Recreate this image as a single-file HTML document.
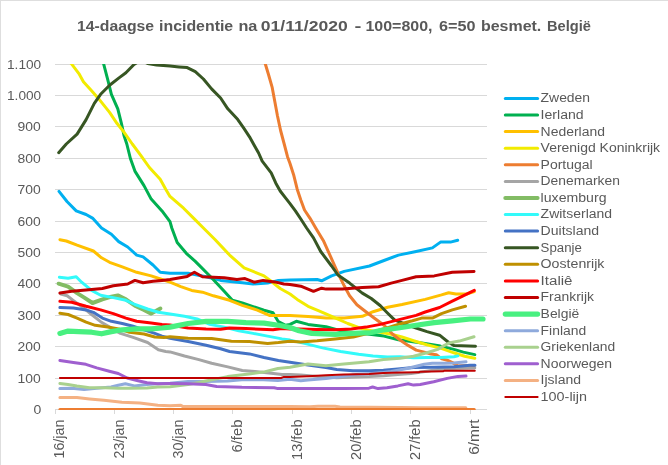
<!DOCTYPE html>
<html lang="nl"><head><meta charset="utf-8"><title>14-daagse incidentie</title>
<style>
html,body{margin:0;padding:0;background:#fff;}
body{width:668px;height:465px;overflow:hidden;position:relative;}
svg{display:block;position:absolute;left:0;top:0;}
text{font-family:"Liberation Sans",sans-serif;fill:#595959;}
</style></head><body>
<svg width="668" height="465" viewBox="0 0 668 465">
<rect x="0" y="0" width="668" height="465" fill="#ffffff"/>
<rect x="0" y="0" width="668" height="1" fill="#DEDEDE"/>
<rect x="0" y="0" width="1" height="465" fill="#DEDEDE"/>

<g font-size="15.3" font-weight="bold">
<text x="77.0" y="30.5" textLength="77.1" lengthAdjust="spacingAndGlyphs">14-daagse</text>
<text x="159.0" y="30.5" textLength="74.2" lengthAdjust="spacingAndGlyphs">incidentie</text>
<text x="238.4" y="30.5" textLength="19.0" lengthAdjust="spacingAndGlyphs">na</text>
<text x="260.8" y="30.5" textLength="86.9" lengthAdjust="spacingAndGlyphs">01/11/2020</text>
<text x="354.6" y="30.5" textLength="6.9" lengthAdjust="spacingAndGlyphs">-</text>
<text x="365.4" y="30.5" textLength="67.1" lengthAdjust="spacingAndGlyphs">100=800,</text>
<text x="439.1" y="30.5" textLength="36.5" lengthAdjust="spacingAndGlyphs">6=50</text>
<text x="481.0" y="30.5" textLength="60.3" lengthAdjust="spacingAndGlyphs">besmet.</text>
<text x="547.0" y="30.5" textLength="43.9" lengthAdjust="spacingAndGlyphs">België</text>
</g>
<g fill="#D9D9D9">
<rect x="55" y="64" width="432" height="1"/>
<rect x="55" y="95" width="432" height="1"/>
<rect x="55" y="126" width="432" height="1"/>
<rect x="55" y="158" width="432" height="1"/>
<rect x="55" y="189" width="432" height="1"/>
<rect x="55" y="221" width="432" height="1"/>
<rect x="55" y="252" width="432" height="1"/>
<rect x="55" y="283" width="432" height="1"/>
<rect x="55" y="315" width="432" height="1"/>
<rect x="55" y="346" width="432" height="1"/>
<rect x="55" y="378" width="432" height="1"/>
<rect x="55" y="409" width="432" height="1"/>
<rect x="55" y="409" width="1" height="5"/>
<rect x="114" y="409" width="1" height="5"/>
<rect x="173" y="409" width="1" height="5"/>
<rect x="232" y="409" width="1" height="5"/>
<rect x="292" y="409" width="1" height="5"/>
<rect x="351" y="409" width="1" height="5"/>
<rect x="410" y="409" width="1" height="5"/>
<rect x="470" y="409" width="1" height="5"/>
</g>
<g font-size="12" text-anchor="end">
<text x="41.2" y="68.5" textLength="34.2" lengthAdjust="spacingAndGlyphs">1.100</text>
<text x="41.2" y="99.5" textLength="34.2" lengthAdjust="spacingAndGlyphs">1.000</text>
<text x="40.7" y="130.5" textLength="23.2" lengthAdjust="spacingAndGlyphs">900</text>
<text x="40.7" y="162.5" textLength="23.2" lengthAdjust="spacingAndGlyphs">800</text>
<text x="40.7" y="193.5" textLength="23.2" lengthAdjust="spacingAndGlyphs">700</text>
<text x="40.7" y="225.5" textLength="23.2" lengthAdjust="spacingAndGlyphs">600</text>
<text x="40.7" y="256.5" textLength="23.2" lengthAdjust="spacingAndGlyphs">500</text>
<text x="40.7" y="287.5" textLength="23.2" lengthAdjust="spacingAndGlyphs">400</text>
<text x="40.7" y="319.5" textLength="23.2" lengthAdjust="spacingAndGlyphs">300</text>
<text x="40.7" y="350.5" textLength="23.2" lengthAdjust="spacingAndGlyphs">200</text>
<text x="40.7" y="382.5" textLength="23.2" lengthAdjust="spacingAndGlyphs">100</text>
<text x="41.4" y="413.5" textLength="7.8" lengthAdjust="spacingAndGlyphs">0</text>
</g>
<g font-size="14">
<text transform="translate(64.4,458.6) rotate(-90)" textLength="39.1" lengthAdjust="spacingAndGlyphs">16/jan</text>
<text transform="translate(123.7,458.6) rotate(-90)" textLength="39.1" lengthAdjust="spacingAndGlyphs">23/jan</text>
<text transform="translate(183.0,458.6) rotate(-90)" textLength="39.1" lengthAdjust="spacingAndGlyphs">30/jan</text>
<text transform="translate(242.3,452.5) rotate(-90)" textLength="33.0" lengthAdjust="spacingAndGlyphs">6/feb</text>
<text transform="translate(301.6,459.9) rotate(-90)" textLength="40.4" lengthAdjust="spacingAndGlyphs">13/feb</text>
<text transform="translate(360.9,459.9) rotate(-90)" textLength="40.4" lengthAdjust="spacingAndGlyphs">20/feb</text>
<text transform="translate(420.1,459.9) rotate(-90)" textLength="40.4" lengthAdjust="spacingAndGlyphs">27/feb</text>
<text transform="translate(479.4,454.8) rotate(-90)" textLength="35.3" lengthAdjust="spacingAndGlyphs">6/mrt</text>
</g>
<defs><clipPath id="pa"><rect x="55" y="64" width="433" height="346"/></clipPath></defs>
<g clip-path="url(#pa)" fill="none" stroke-linejoin="round" stroke-linecap="round">
<polyline stroke="#00B0F0" stroke-width="3" points="59.0,191.4 67.2,201.8 76.2,210.9 86.1,214.5 92.5,218.1 101.5,228.0 111.4,234.3 118.7,241.6 127.7,247.0 136.7,255.1 143.1,256.9 153.0,265.0 160.2,272.3 170.0,273.2 188.1,273.2 206.1,276.8 220.6,280.4 242.3,282.8 253.1,284.0 267.6,283.1 278.4,280.4 290.0,279.9 317.1,279.5 321.6,280.8 331.6,275.9 344.2,271.4 369.5,266.0 384.0,260.5 398.4,255.1 416.1,251.5 432.4,247.9 440.5,242.1 450.5,242.1 457.7,240.3"/>
<polyline stroke="#00B050" stroke-width="3" points="59.0,-60.0 100.0,50.0 103.7,64.2 107.8,79.9 111.4,94.3 117.8,108.8 121.4,123.3 124.1,135.9 126.8,144.0 130.4,158.5 134.9,171.1 144.0,185.6 151.2,199.1 162.0,210.9 170.0,221.7 171.8,228.0 177.2,242.5 186.3,253.3 195.3,261.4 211.6,277.7 224.2,291.3 232.4,300.3 242.3,303.0 253.1,306.6 264.0,310.2 273.0,312.7 278.4,321.7 285.7,325.3 290.0,324.4 296.3,321.3 308.1,324.4 326.1,326.7 344.2,331.6 369.5,334.3 384.0,336.1 398.4,339.8 420.2,342.7 440.4,346.1 453.9,349.4 463.3,352.1 474.8,354.6"/>
<polyline stroke="#FFC000" stroke-width="3" points="59.9,239.7 66.3,241.0 77.1,245.2 93.4,251.0 101.5,257.8 109.6,262.3 122.3,266.9 136.7,272.3 151.2,275.9 162.0,279.5 170.0,282.2 180.8,286.7 191.7,290.4 202.5,292.2 213.4,295.8 229.6,300.3 242.3,305.4 256.7,309.9 269.4,315.4 290.0,315.4 308.1,316.6 326.1,318.1 344.2,318.1 362.3,316.3 373.1,311.7 387.6,307.2 402.0,304.5 425.2,299.4 441.5,294.9 448.7,292.7 455.9,294.0 466.7,294.0 474.3,291.6"/>
<polyline stroke="#F2EB00" stroke-width="3" points="59.2,48.0 71.7,64.2 78.9,73.6 83.4,81.7 91.6,90.7 98.8,98.9 109.6,112.4 116.9,123.3 124.1,132.3 132.3,144.0 140.4,154.8 149.4,167.5 160.2,179.2 165.7,189.2 170.0,196.4 177.2,202.7 183.6,208.2 193.5,218.1 203.4,228.0 215.2,239.7 229.6,255.1 244.1,267.8 253.1,271.4 264.0,275.9 271.2,281.3 280.2,288.5 290.0,294.0 297.2,299.4 308.1,306.3 318.9,310.8 333.4,317.2 347.8,323.5 362.3,328.9 376.7,331.6 391.2,334.3 402.0,337.0 413.5,340.7 426.9,344.7 440.4,348.1 453.9,352.8 464.7,356.2 474.8,358.2"/>
<polyline stroke="#ED7D31" stroke-width="3" points="258.0,40.0 265.4,64.2 268.5,74.5 272.1,87.1 274.8,101.6 277.5,116.0 280.6,130.5 284.2,144.0 287.5,156.7 290.0,163.5 293.6,174.7 297.2,189.2 300.8,200.0 304.5,210.0 309.9,218.1 315.7,228.0 323.4,240.7 330.7,256.9 337.9,273.2 344.2,285.8 349.6,295.8 356.9,304.8 362.3,309.0 373.1,317.2 384.0,325.3 392.7,334.3 400.0,340.0 408.1,345.4 416.2,350.1 424.3,352.1 431.0,354.1 436.4,354.8 441.8,358.9 447.2,360.2 452.5,362.6 458.0,366.0 470.0,365.4 474.0,365.4"/>
<polyline stroke="#A5A5A5" stroke-width="3" points="60.8,294.0 67.2,295.8 73.5,300.6 82.5,307.2 91.6,314.5 100.6,321.7 109.6,327.1 120.5,333.4 133.1,337.4 147.6,342.5 158.4,349.7 165.7,351.5 170.0,351.9 184.5,356.0 198.9,359.6 211.6,363.3 227.8,366.9 242.3,370.5 254.9,371.4 271.2,373.2 282.0,374.5 290.0,374.5 300.8,375.1 318.0,376.5 336.7,377.8 369.0,376.6 383.4,375.7 397.8,374.4 411.0,373.5 425.0,371.5 437.7,369.4 453.9,368.6 474.8,368.0"/>
<polyline stroke="#82BC64" stroke-width="4" points="58.6,283.7 68.1,286.7 77.1,293.1 84.3,297.6 92.5,303.0 102.4,299.4 111.4,296.7 117.8,295.4 125.9,299.4 134.9,305.7 144.0,309.9 151.2,313.6 160.4,308.5"/>
<polyline stroke="#33FAFA" stroke-width="3" points="59.4,277.2 68.1,278.2 76.2,276.8 81.6,282.2 91.6,290.4 100.6,295.2 113.3,297.6 125.9,300.3 134.9,304.5 147.6,309.0 158.4,312.3 170.0,314.1 184.5,316.3 197.1,319.0 209.8,324.4 224.2,327.1 238.7,330.7 253.1,333.4 267.6,336.1 282.0,338.9 290.0,340.1 304.5,343.4 322.5,347.9 340.6,351.5 358.7,354.2 373.1,356.0 387.6,356.9 400.0,356.8 413.5,357.8 426.9,357.5 440.4,357.5 453.9,356.8 457.9,355.9"/>
<polyline stroke="#4472C4" stroke-width="3" points="59.9,307.6 73.5,308.1 86.1,309.9 93.4,312.3 102.4,318.1 111.4,321.3 122.3,323.5 133.1,326.2 144.0,329.8 154.8,333.4 162.0,336.1 170.0,338.3 188.1,341.6 206.1,345.2 220.6,348.8 229.6,351.5 249.5,353.9 264.0,357.5 278.4,360.5 290.0,362.3 308.0,364.9 325.9,367.6 336.7,369.4 352.9,370.8 369.0,370.8 383.4,370.3 397.8,369.0 413.5,367.6 434.2,367.2 453.9,366.7 470.0,365.2 475.0,365.2"/>
<polyline stroke="#375623" stroke-width="3" points="58.7,152.7 66.3,144.0 77.1,134.1 86.1,119.6 94.3,103.4 100.6,94.3 109.6,85.3 118.7,78.1 125.9,72.7 134.0,64.5 141.0,60.0 147.6,63.5 156.6,64.9 170.0,66.0 179.0,66.9 187.2,67.6 195.3,71.7 203.4,79.0 211.6,88.9 220.6,98.0 227.8,108.8 237.8,119.6 244.1,128.7 249.5,136.8 253.5,144.0 258.6,153.0 262.2,161.2 271.2,172.9 275.7,182.9 280.2,191.0 285.7,198.2 290.0,203.6 295.4,210.9 300.8,219.0 306.6,228.0 313.5,237.9 320.7,251.5 331.6,266.0 337.9,275.0 349.6,283.1 362.3,293.1 371.3,298.5 380.4,305.7 387.2,312.7 394.5,319.9 403.5,323.5 416.1,328.0 427.0,331.6 439.6,335.2 448.7,342.5 453.9,345.4 475.5,346.3"/>
<polyline stroke="#BF9000" stroke-width="3" points="59.9,313.2 68.1,314.5 77.1,318.1 86.1,322.2 95.2,325.3 107.8,327.1 118.7,328.9 129.5,332.2 144.0,334.0 154.8,337.0 163.9,337.4 170.0,336.7 188.1,338.3 211.6,338.5 231.4,341.2 249.5,341.6 267.6,343.4 278.4,342.5 290.0,341.2 300.8,341.9 317.1,340.7 335.2,338.9 353.3,337.0 371.3,332.5 389.4,327.1 398.1,324.4 412.5,320.8 421.6,318.1 432.4,318.1 441.5,313.6 452.3,309.9 465.5,306.2"/>
<polyline stroke="#FF0000" stroke-width="3" points="59.9,301.3 71.7,302.2 86.1,306.3 100.6,309.9 113.3,313.6 125.9,318.1 136.7,321.3 151.2,323.1 162.0,324.4 170.0,324.9 188.1,328.0 206.1,328.9 220.6,329.3 229.6,328.0 245.9,328.6 260.4,329.3 273.0,329.8 282.0,328.6 290.0,328.9 299.0,328.9 317.1,329.5 335.2,329.8 351.4,328.9 365.9,327.1 380.4,324.4 398.1,319.9 416.1,315.4 425.2,312.0 439.6,307.5 452.3,301.2 463.1,295.8 474.3,290.4"/>
<polyline stroke="#C00000" stroke-width="3" points="59.9,293.1 71.7,291.3 86.1,290.0 102.4,288.5 113.3,285.8 127.7,284.0 134.9,280.4 143.1,282.8 153.0,281.3 162.0,280.4 170.0,279.5 187.2,276.4 194.4,272.3 202.5,276.8 224.2,277.7 236.9,279.5 245.0,278.6 254.0,282.2 263.1,280.4 274.8,281.9 283.9,284.0 290.0,284.4 300.8,286.2 313.5,291.3 321.6,288.2 326.1,289.1 342.4,289.1 362.3,287.6 378.6,286.7 391.2,283.1 402.0,280.4 416.1,276.8 434.2,275.9 452.3,272.3 474.0,271.4"/>
<polyline stroke="#48F080" stroke-width="5.2" points="59.9,333.4 68.1,331.1 78.9,331.6 91.6,332.2 101.5,333.8 111.4,331.6 122.3,329.8 136.7,328.9 151.2,328.9 162.0,328.0 170.0,327.1 188.1,323.5 206.1,321.3 227.8,321.3 245.9,322.6 264.0,323.1 278.4,325.3 290.0,327.5 299.0,330.7 311.7,333.4 335.2,334.3 353.3,333.4 371.3,332.5 384.0,329.8 398.1,328.0 416.1,325.3 434.2,322.6 452.3,320.8 470.4,319.0 483.0,319.0"/>
<polyline stroke="#8FAADC" stroke-width="3" points="59.9,388.6 71.6,388.2 84.1,389.5 96.7,388.2 111.1,387.0 118.3,385.2 125.4,383.7 134.4,385.9 147.0,384.6 157.8,383.7 170.0,383.2 188.0,381.6 205.9,381.6 227.5,381.0 241.9,379.8 263.4,379.8 277.8,380.5 290.0,379.2 300.8,380.7 308.0,380.1 325.9,378.4 343.9,376.2 356.0,374.6 369.0,373.7 383.4,372.6 391.0,371.5 397.8,370.3 408.1,368.3 416.2,366.3 424.3,364.3 432.3,363.2 444.5,363.2 453.9,362.9 466.0,361.8"/>
<polyline stroke="#A9D18E" stroke-width="3" points="59.9,383.4 68.0,384.6 76.9,386.1 89.5,387.7 103.9,387.7 118.3,388.2 130.8,388.2 147.0,387.9 157.8,387.0 170.0,386.7 188.0,384.6 205.9,381.0 227.5,376.6 249.0,373.9 263.4,372.1 277.8,368.5 290.0,367.2 308.0,364.0 325.9,365.8 343.9,364.0 369.0,361.8 383.4,359.5 400.0,358.2 413.5,356.2 426.9,352.8 437.7,349.4 444.5,345.4 449.9,342.7 459.3,341.1 474.0,336.7"/>
<polyline stroke="#9F5FCF" stroke-width="3" points="59.9,360.4 73.4,362.5 85.9,364.3 96.7,367.9 109.3,371.2 118.3,373.5 127.2,378.0 138.0,380.7 147.0,382.8 157.8,383.7 170.0,383.6 188.0,383.7 205.9,384.6 216.7,386.4 241.9,387.3 274.2,387.7 277.8,388.6 308.0,388.6 343.9,388.6 369.0,388.2 372.6,387.0 378.0,388.6 387.0,387.7 397.8,385.9 408.1,383.8 413.5,385.1 420.2,384.5 433.7,381.8 447.2,378.4 457.9,376.4 466.0,376.1"/>
<polyline stroke="#F4B183" stroke-width="3" points="59.9,397.6 76.9,397.6 89.5,399.0 103.9,400.3 121.9,402.2 139.8,403.1 157.8,405.3 170.0,405.7 180.8,405.3 182.6,406.4 290.0,406.6 310.0,406.8 318.0,406.3 335.0,406.3 340.0,406.9 400.0,407.4 420.0,407.8 465.8,407.8"/>
<polyline stroke="#C00000" stroke-width="2" points="59.9,378.0 281.0,378.0 284.0,376.9 290.0,376.9 308.0,376.2 325.9,375.3 343.9,374.4 369.0,373.9 383.4,373.0 400.0,372.6 418.9,372.3 420.2,371.7 443.1,371.3 444.5,370.7 474.8,370.7"/>
<polyline stroke="#ED7D31" stroke-width="3" points="59.9,409.4 474.3,409.4"/>
</g>
<g stroke-linecap="round" fill="none">
<line x1="505.3" y1="98.4" x2="537.6" y2="98.4" stroke="#00B0F0" stroke-width="3"/>
<line x1="505.3" y1="115.0" x2="537.6" y2="115.0" stroke="#00B050" stroke-width="3"/>
<line x1="505.3" y1="131.6" x2="537.6" y2="131.6" stroke="#FFC000" stroke-width="3"/>
<line x1="505.3" y1="148.2" x2="537.6" y2="148.2" stroke="#F2EB00" stroke-width="3"/>
<line x1="505.3" y1="164.8" x2="537.6" y2="164.8" stroke="#ED7D31" stroke-width="3"/>
<line x1="505.3" y1="181.4" x2="537.6" y2="181.4" stroke="#A5A5A5" stroke-width="3"/>
<line x1="505.3" y1="197.9" x2="537.6" y2="197.9" stroke="#82BC64" stroke-width="4"/>
<line x1="505.3" y1="214.5" x2="537.6" y2="214.5" stroke="#33FAFA" stroke-width="3"/>
<line x1="505.3" y1="231.1" x2="537.6" y2="231.1" stroke="#4472C4" stroke-width="3"/>
<line x1="505.3" y1="247.7" x2="537.6" y2="247.7" stroke="#375623" stroke-width="3"/>
<line x1="505.3" y1="264.3" x2="537.6" y2="264.3" stroke="#BF9000" stroke-width="3"/>
<line x1="505.3" y1="280.9" x2="537.6" y2="280.9" stroke="#FF0000" stroke-width="3"/>
<line x1="505.3" y1="297.5" x2="537.6" y2="297.5" stroke="#C00000" stroke-width="3"/>
<line x1="505.3" y1="314.1" x2="537.6" y2="314.1" stroke="#48F080" stroke-width="5.2"/>
<line x1="505.3" y1="330.7" x2="537.6" y2="330.7" stroke="#8FAADC" stroke-width="3"/>
<line x1="505.3" y1="347.2" x2="537.6" y2="347.2" stroke="#A9D18E" stroke-width="3"/>
<line x1="505.3" y1="363.8" x2="537.6" y2="363.8" stroke="#9F5FCF" stroke-width="3"/>
<line x1="505.3" y1="380.4" x2="537.6" y2="380.4" stroke="#F4B183" stroke-width="3"/>
<line x1="505.3" y1="397.0" x2="537.6" y2="397.0" stroke="#C00000" stroke-width="2"/>
</g>
<g font-size="12">
<text x="540.6" y="102.3" textLength="49.5" lengthAdjust="spacingAndGlyphs">Zweden</text>
<text x="540.6" y="118.9" textLength="43.1" lengthAdjust="spacingAndGlyphs">Ierland</text>
<text x="540.6" y="135.5" textLength="64.3" lengthAdjust="spacingAndGlyphs">Nederland</text>
<text x="540.6" y="152.1" textLength="119.5" lengthAdjust="spacingAndGlyphs">Verenigd Koninkrijk</text>
<text x="540.6" y="168.7" textLength="52.1" lengthAdjust="spacingAndGlyphs">Portugal</text>
<text x="540.6" y="185.3" textLength="79.3" lengthAdjust="spacingAndGlyphs">Denemarken</text>
<text x="540.6" y="201.8" textLength="65.9" lengthAdjust="spacingAndGlyphs">luxemburg</text>
<text x="540.6" y="218.4" textLength="71.5" lengthAdjust="spacingAndGlyphs">Zwitserland</text>
<text x="540.6" y="235.0" textLength="58.6" lengthAdjust="spacingAndGlyphs">Duitsland</text>
<text x="540.6" y="251.6" textLength="41.2" lengthAdjust="spacingAndGlyphs">Spanje</text>
<text x="540.6" y="268.2" textLength="63.8" lengthAdjust="spacingAndGlyphs">Oostenrijk</text>
<text x="540.6" y="284.8" textLength="31.9" lengthAdjust="spacingAndGlyphs">Italiê</text>
<text x="540.6" y="301.4" textLength="53.4" lengthAdjust="spacingAndGlyphs">Frankrijk</text>
<text x="540.6" y="318.0" textLength="38.7" lengthAdjust="spacingAndGlyphs">België</text>
<text x="540.6" y="334.6" textLength="45.6" lengthAdjust="spacingAndGlyphs">Finland</text>
<text x="540.6" y="351.1" textLength="74.7" lengthAdjust="spacingAndGlyphs">Griekenland</text>
<text x="540.6" y="367.7" textLength="71.5" lengthAdjust="spacingAndGlyphs">Noorwegen</text>
<text x="540.6" y="384.3" textLength="40.5" lengthAdjust="spacingAndGlyphs">Ijsland</text>
<text x="540.6" y="400.9" textLength="46.4" lengthAdjust="spacingAndGlyphs">100-lijn</text>
</g>
</svg></body></html>
